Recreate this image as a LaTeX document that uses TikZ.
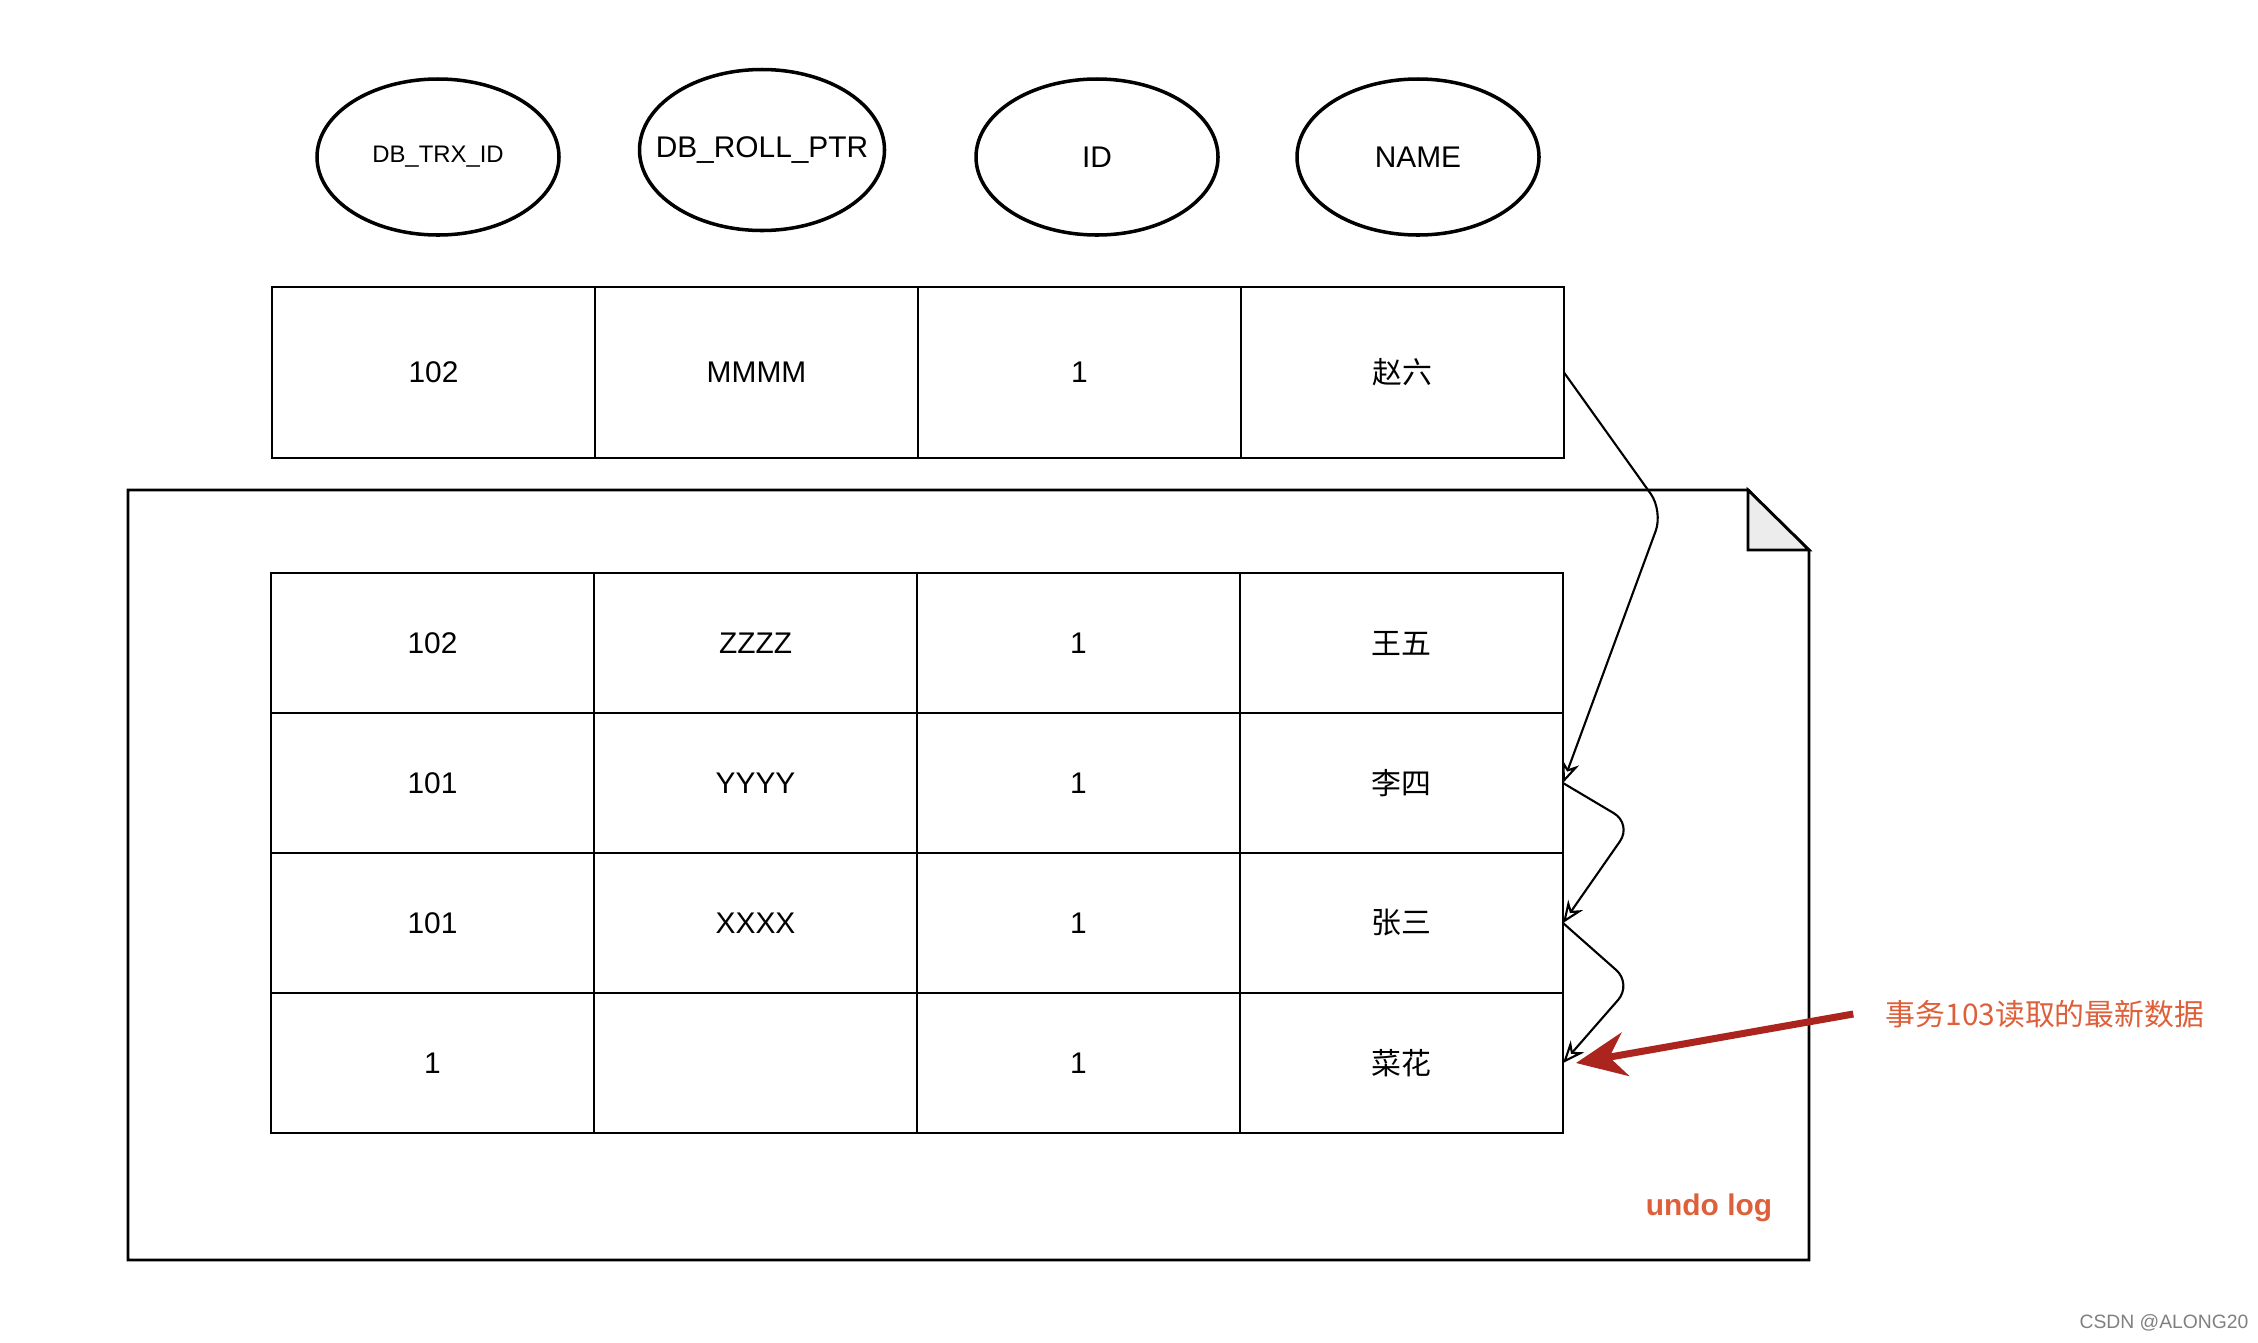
\documentclass[tikz,border=0pt]{standalone}
\usepackage{fontspec}
\setmainfont{Liberation Sans}
\newfontfamily\cjk{Noto Sans CJK SC}
\usepackage{xcolor}
\usetikzlibrary{shapes.geometric, arrows.meta, positioning}
\definecolor{notered}{RGB}{222,96,58}
\definecolor{arrowred}{RGB}{172,36,30}
\tikzstyle{field} = [draw, ellipse, line width=1pt, minimum width=2.42cm, minimum height=1.56cm, font=\fontsize{8.5}{10}\selectfont]
\tikzstyle{cell} = [draw, rectangle, line width=0.8pt, outer sep=0pt, minimum width=3.23cm, minimum height=1.4cm, font=\fontsize{8.5}{10}\selectfont]
\tikzstyle{cjkcell} = [cell, font=\cjk\fontsize{8.5}{10}\selectfont]
\tikzstyle{arrow} = [line width=0.6pt, -{Stealth[open, length=2.2mm, width=1.8mm]}, rounded corners=6pt]
\tikzstyle{redarrow} = [line width=2pt, color=arrowred, -{Stealth[length=5mm, width=4.4mm]}]
\begin{document}
\begin{tikzpicture}
    \useasboundingbox (0,0) rectangle (22.58,-13.42);
    % column headers
    \node [field, font=\fontsize{6.8}{8}\selectfont] (trx) at (4.38,-1.57) {DB\_TRX\_ID};
    \node [field, inner xsep=-4mm, minimum width=2.45cm, minimum height=1.61cm] (roll) at (7.62,-1.50) {DB\_ROLL\_PTR};
    \node [field] (id) at (10.97,-1.57) {ID};
    \node [field] (name) at (14.18,-1.57) {NAME};
    % current row
    \node [cell, minimum height=1.71cm] (cur-trx) at (4.335,-3.725) {102};
    \node [cell, minimum height=1.71cm, right=0cm of cur-trx] (cur-ptr) {MMMM};
    \node [cell, minimum height=1.71cm, right=0cm of cur-ptr] (cur-id) {1};
    \node [cjkcell, minimum height=1.71cm, right=0cm of cur-id] (cur-name) {赵六};
    % undo log page
    \draw [line width=0.8pt] (1.28,-4.90) -- (17.48,-4.90) -- (18.09,-5.50) -- (18.09,-12.60) -- (1.28,-12.60) -- cycle;
    \draw [line width=0.8pt, fill=gray!15] (17.48,-4.90) -- (17.48,-5.50) -- (18.09,-5.50) -- cycle;
    \foreach \k/\trxv/\ptrv/\namev in {1/102/ZZZZ/王五, 2/101/YYYY/李四, 3/101/XXXX/张三, 4/1//菜花} {
        \node [cell] (row\k-trx) at (4.325,{-6.43-1.4*(\k-1)}) {\trxv};
        \node [cell, right=0cm of row\k-trx] (row\k-ptr) {\ptrv};
        \node [cell, right=0cm of row\k-ptr] (row\k-id) {1};
        \node [cjkcell, right=0cm of row\k-id] (row\k-name) {\namev};
    }
    \node [font=\bfseries\fontsize{8.5}{10}\selectfont, text=notered] (undolbl) at (17.09,-12.08) {undo log};
    \node [font=\cjk\fontsize{8.5}{10}\selectfont, text=notered] (latest) at (20.45,-10.14) {事务103读取的最新数据};
    \node [font=\fontsize{5.5}{7}\selectfont, text=gray] (mark) at (21.64,-13.23) {CSDN @ALONG20};
    % version chain
    \draw [arrow] (cur-name.east) -- (16.63,-5.11) -- (row2-name.east);
    \draw [arrow] (row2-name.east) -- (16.32,-8.24) -- (row3-name.east);
    \draw [arrow] (row3-name.east) -- (16.32,-9.84) -- (row4-name.east);
    \draw [redarrow] ([xshift=-2mm]latest.west) -- ([xshift=1.3mm]row4-name.east);
\end{tikzpicture}
\end{document}
